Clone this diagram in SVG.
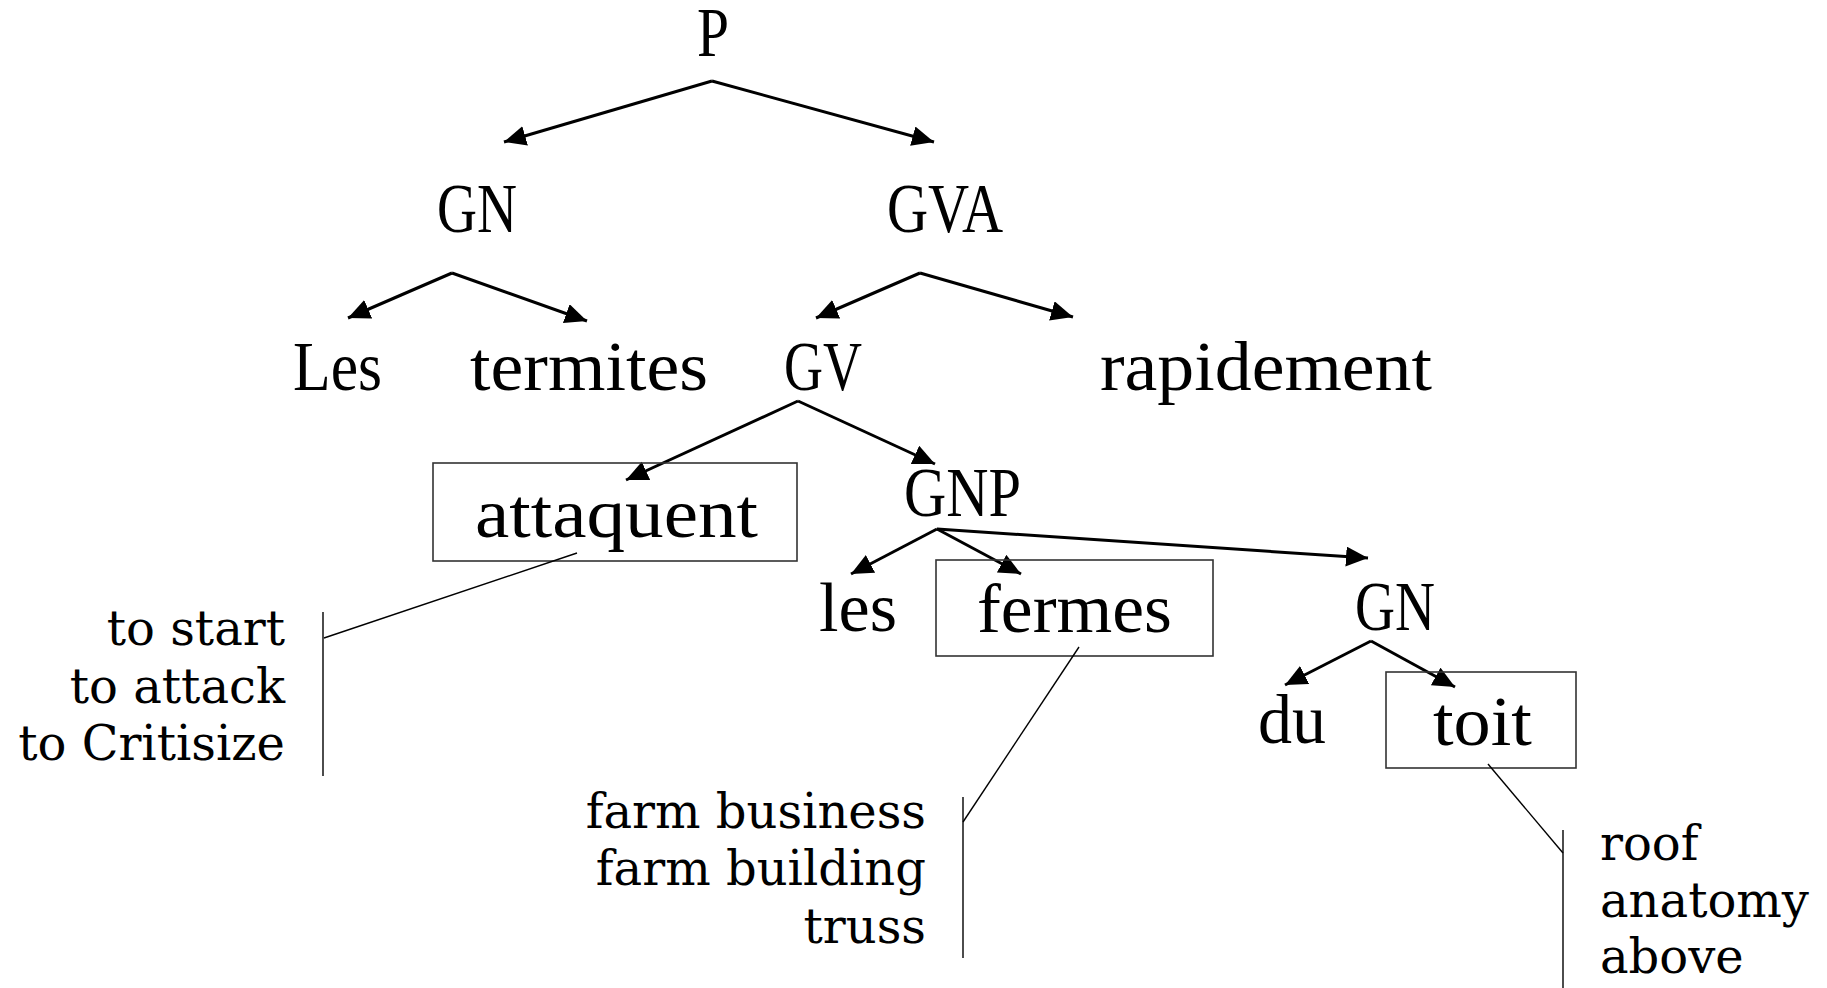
<svg xmlns="http://www.w3.org/2000/svg" width="1827" height="988" viewBox="0 0 1827 988">
<defs>
<marker id="ah" markerUnits="userSpaceOnUse" markerWidth="23" markerHeight="21" refX="22" refY="10" orient="auto">
<path d="M0,0 L22,10 L0,20 z" fill="#000"/>
</marker>
<style>
.lbl{font-family:"Liberation Serif","Times New Roman",serif;font-size:70px;fill:#000}
.ann{font-family:"DejaVu Serif",serif;font-size:48px;fill:#000}
.edge{fill:none;stroke:#000;stroke-width:3;marker-end:url(#ah)}
.box{fill:none;stroke:#333;stroke-width:1.6}
.lead{fill:none;stroke:#000;stroke-width:1.4}
</style>
</defs>
<rect width="1827" height="988" fill="#fff"/>
<g id="connectors">
<path class="edge" d="M712,81 L504,142"/>
<path class="edge" d="M712,81 L934,142"/>
<path class="edge" d="M452,273 L348,318"/>
<path class="edge" d="M452,273 L587,321"/>
<path class="edge" d="M920,273 L816,318"/>
<path class="edge" d="M920,273 L1073,317"/>
<path class="edge" d="M798,401 L626,480"/>
<path class="edge" d="M798,401 L935,464"/>
<path class="edge" d="M937,529 L851,574"/>
<path class="edge" d="M937,529 L1021,574"/>
<path class="edge" d="M937,529 L1368,558"/>
<path class="edge" d="M1371,641 L1285,685"/>
<path class="edge" d="M1371,641 L1455,687"/>
</g>
<g id="n-P"><text class="lbl" x="697" y="56" textLength="32" lengthAdjust="spacingAndGlyphs">P</text></g>
<g id="n-GN"><text class="lbl" x="437" y="232" textLength="80" lengthAdjust="spacingAndGlyphs">GN</text></g>
<g id="n-GVA"><text class="lbl" x="887" y="232" textLength="116" lengthAdjust="spacingAndGlyphs">GVA</text></g>
<g id="n-Les"><text class="lbl" x="293" y="390" textLength="89" lengthAdjust="spacingAndGlyphs">Les</text></g>
<g id="n-termites"><text class="lbl" x="470" y="390" textLength="238" lengthAdjust="spacingAndGlyphs">termites</text></g>
<g id="n-GV"><text class="lbl" x="784" y="390" textLength="78" lengthAdjust="spacingAndGlyphs">GV</text></g>
<g id="n-rapidement"><text class="lbl" x="1100" y="390" textLength="332" lengthAdjust="spacingAndGlyphs">rapidement</text></g>
<g id="n-attaquent">
<rect class="box" x="433" y="463" width="364" height="98"/>
<text class="lbl" x="475" y="537" textLength="283" lengthAdjust="spacingAndGlyphs">attaquent</text>
</g>
<g id="n-GNP"><text class="lbl" x="904" y="516" textLength="117" lengthAdjust="spacingAndGlyphs">GNP</text></g>
<g id="n-les"><text class="lbl" x="819" y="631" textLength="78" lengthAdjust="spacingAndGlyphs">les</text></g>
<g id="n-fermes">
<rect class="box" x="936" y="560" width="277" height="96"/>
<text class="lbl" x="977" y="632" textLength="195" lengthAdjust="spacingAndGlyphs">fermes</text>
</g>
<g id="n-GN2"><text class="lbl" x="1355" y="630" textLength="80" lengthAdjust="spacingAndGlyphs">GN</text></g>
<g id="n-du"><text class="lbl" x="1258" y="743" textLength="68" lengthAdjust="spacingAndGlyphs">du</text></g>
<g id="n-toit">
<rect class="box" x="1386" y="672" width="190" height="96"/>
<text class="lbl" x="1433" y="745" textLength="99" lengthAdjust="spacingAndGlyphs">toit</text>
</g>
<g id="ann-attaquent">
<path class="lead" d="M577,553 L324,638"/>
<path class="lead" d="M323,612 L323,776"/>
<text class="ann" text-anchor="end" x="285" y="645">to start</text>
<text class="ann" text-anchor="end" x="285" y="703">to attack</text>
<text class="ann" text-anchor="end" x="285" y="760">to Critisize</text>
</g>
<g id="ann-fermes">
<path class="lead" d="M1079,647 L963,822"/>
<path class="lead" d="M963,797 L963,958"/>
<text class="ann" text-anchor="end" x="926" y="828">farm business</text>
<text class="ann" text-anchor="end" x="926" y="885">farm building</text>
<text class="ann" text-anchor="end" x="926" y="943">truss</text>
</g>
<g id="ann-toit">
<path class="lead" d="M1488,764 L1563,853"/>
<path class="lead" d="M1563,830 L1563,988"/>
<text class="ann" x="1600" y="860">roof</text>
<text class="ann" x="1600" y="917">anatomy</text>
<text class="ann" x="1600" y="973">above</text>
</g>
</svg>
